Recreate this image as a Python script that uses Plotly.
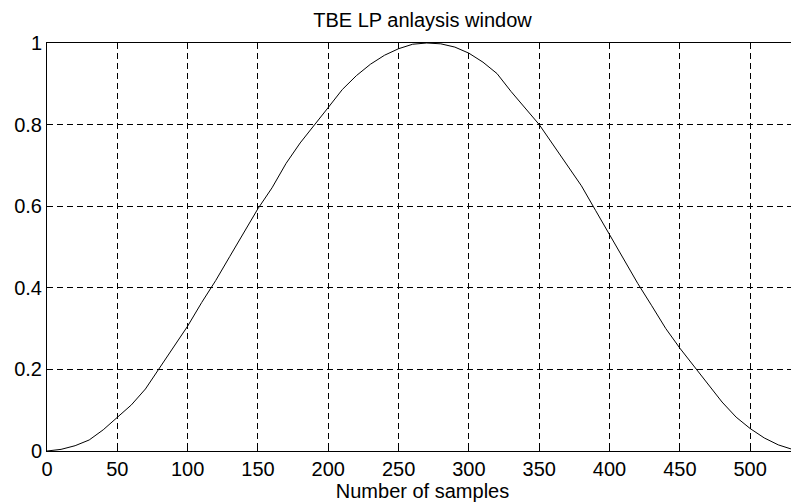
import plotly.graph_objects as go

# window values
samples = [0, 10, 20, 30, 40, 50, 60, 70, 80, 90, 100, 110, 120, 130, 140, 150,
           160, 170, 180, 190, 200, 210, 220, 230, 240, 250, 260, 270, 280, 290,
           300, 310, 320, 330, 340, 350, 360, 370, 380, 390, 400, 410, 420, 430,
           440, 450, 460, 470, 480, 490, 500, 510, 520, 530, 534]
window = [0.0, 0.004, 0.013, 0.027, 0.052, 0.083, 0.113, 0.152, 0.203, 0.256,
          0.306, 0.364, 0.418, 0.477, 0.536, 0.594, 0.645, 0.705, 0.755, 0.800,
          0.842, 0.886, 0.920, 0.948, 0.970, 0.986, 0.997, 1.000, 0.998, 0.990,
          0.975, 0.953, 0.925, 0.881, 0.840, 0.800, 0.750, 0.700, 0.650, 0.590,
          0.530, 0.472, 0.411, 0.356, 0.300, 0.252, 0.207, 0.163, 0.120, 0.083,
          0.055, 0.032, 0.015, 0.004, 0.001]

x_ticks = [0, 50, 100, 150, 200, 250, 300, 350, 400, 450, 500]
y_ticks = [0, 0.2, 0.4, 0.6, 0.8, 1]
y_tick_text = ["0", "0.2", "0.4", "0.6", "0.8", "1"]

FONT = 'Liberation Sans, Arial, sans-serif'

fig = go.Figure()
fig.add_trace(go.Scatter(
    x=samples,
    y=window,
    mode='lines',
    line=dict(color='black', width=1),
    showlegend=False,
))

axis_style = dict(
    showline=True, linecolor='black', linewidth=1, mirror=True,
    showgrid=True, gridcolor='black', gridwidth=1, griddash='6px,4px',
    ticks='inside', ticklen=5, tickcolor='black',
    zeroline=False, automargin=False,
    tickfont=dict(family=FONT, size=20, color='black'),
)

# page body has an 8px margin, so the figure is sized to fit the window
W, H = 791, 494
fig.update_layout(
    width=W, height=H,
    paper_bgcolor='white', plot_bgcolor='white',
    margin=dict(l=39, r=1, t=35, b=51),
    title=dict(text='TBE LP anlaysis window', x=0.5, xref='paper',
               y=1 - 12 / H, yref='container', yanchor='middle',
               font=dict(family=FONT, size=20, color='black')),
    font=dict(family=FONT, color='black'),
)
fig.update_xaxes(range=[0, 534], tickvals=x_ticks,
                 title=dict(text='Number of samples', standoff=2,
                            font=dict(family=FONT, size=20, color='black')),
                 **axis_style)
fig.update_yaxes(range=[0, 1], tickvals=y_ticks, ticktext=y_tick_text, **axis_style)

fig.write_html("out.html")
